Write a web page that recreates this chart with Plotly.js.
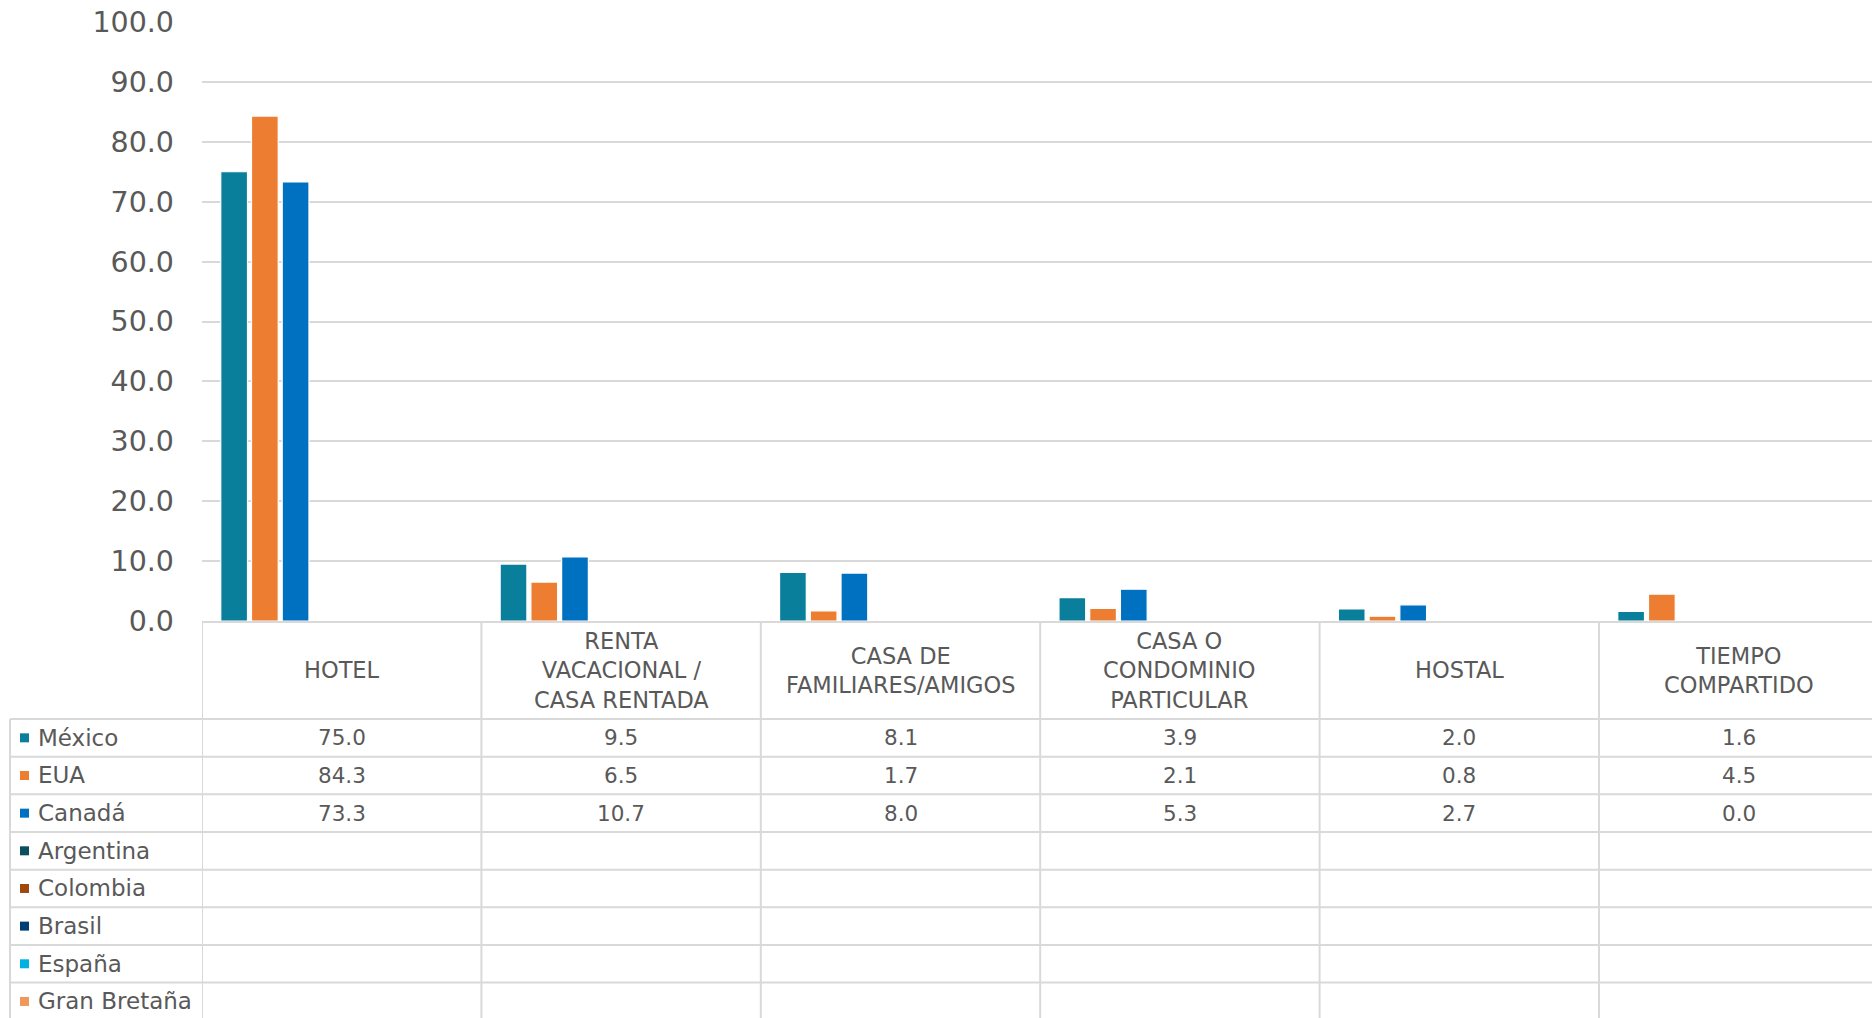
<!DOCTYPE html>
<html>
<head>
<meta charset="utf-8">
<script src="https://cdn.plot.ly/plotly-3.0.1.min.js"></script>
<style>
html, body { margin: 0; padding: 0; overflow: hidden; background: #ffffff; }
#chart { width: 1872px; height: 1018px; }
</style>
</head>
<body>
<div id="chart"></div>
<script>
// ---- Data ----
const categories = [
  'HOTEL',
  'RENTA<br>VACACIONAL /<br>CASA RENTADA',
  'CASA DE<br>FAMILIARES/AMIGOS',
  'CASA O<br>CONDOMINIO<br>PARTICULAR',
  'HOSTAL',
  'TIEMPO<br>COMPARTIDO'
];
const seriesNames = ['México', 'EUA', 'Canadá', 'Argentina', 'Colombia', 'Brasil', 'España', 'Gran Bretaña'];
const mexico     = [75.0, 9.5, 8.1, 3.9, 2.0, 1.6];
const eua        = [84.3, 6.5, 1.7, 2.1, 0.8, 4.5];
const canada     = [73.3, 10.7, 8.0, 5.3, 2.7, 0.0];
const argentina  = [null, null, null, null, null, null];
const colombia   = [null, null, null, null, null, null];
const brasil     = [null, null, null, null, null, null];
const espana     = [null, null, null, null, null, null];
const granBretana = [null, null, null, null, null, null];
const yTicks = [0, 10, 20, 30, 40, 50, 60, 70, 80, 90, 100];

const seriesValues = [mexico, eua, canada, argentina, colombia, brasil, espana, granBretana];
const seriesColors = ['#0A7F9B', '#ED7D31', '#0070C0', '#0B4F5E', '#9E480E', '#003F74', '#00B2E2', '#F1975A'];

// ---- Geometry (pixels) ----
const W = 1872, H = 1018;
const mL = 202, mR = 0, mT = 22, mB = 397;
const plotH = H - mT - mB;           // 599
const plotW = W - mL - mR;           // 1670
const catPx = 279.4;                 // width of one category column
const xMax = -0.5 + plotW / catPx;
const axisY = mT + plotH;            // pixel y of the zero line
const headerBottom = 719;
const rowH = 37.66;
const tableLeft = 10;

const py = Y => (axisY - Y) / plotH;     // pixel y -> paper y
const px = X => (X - mL) / plotW;        // pixel x -> paper x

const fontFam = '"DejaVu Sans", Lato, sans-serif';
const textColor = '#595959';
const lineColor = '#D9D9D9';

// ---- Traces ----
const traces = seriesNames.map((name, i) => ({
  type: 'bar',
  name: name,
  x: categories,
  y: seriesValues[i],
  marker: { color: seriesColors[i], line: { color: '#ffffff', width: 1.2 } },
  hoverinfo: 'x+y+name'
}));

// ---- Table shapes and annotations ----
const shapes = [];
const annotations = [];

// vertical column lines in table
for (let k = 0; k <= categories.length; k++) {
  const xv = -0.5 + k;
  if (xv > xMax) break;
  shapes.push({
    type: 'line', xref: 'x', yref: 'paper',
    x0: xv, x1: xv, y0: 0, y1: py(H + 5),
    line: { color: lineColor, width: 2 }
  });
}
// left edge of series column
shapes.push({
  type: 'line', xref: 'paper', yref: 'paper',
  x0: px(tableLeft), x1: px(tableLeft), y0: py(headerBottom), y1: py(H + 5),
  line: { color: lineColor, width: 2 }
});
// horizontal row lines
for (let r = 0; r <= seriesNames.length; r++) {
  const Y = headerBottom + r * rowH;
  if (Y > H) break;
  shapes.push({
    type: 'line', xref: 'paper', yref: 'paper',
    x0: px(tableLeft), x1: 1, y0: py(Y), y1: py(Y),
    line: { color: lineColor, width: 2 }
  });
}

// header labels
categories.forEach((c, j) => {
  annotations.push({
    xref: 'x', yref: 'paper', x: c, y: py((axisY + headerBottom) / 2),
    text: c, showarrow: false, xanchor: 'center', yanchor: 'middle',
    align: 'center',
    font: { family: fontFam, size: 22.5, color: textColor }
  });
});

// series rows
seriesNames.forEach((name, i) => {
  const cy = headerBottom + i * rowH + rowH / 2;
  shapes.push({
    type: 'rect', xref: 'paper', yref: 'paper',
    x0: px(20), x1: px(29), y0: py(cy - 4.5), y1: py(cy + 4.5),
    fillcolor: seriesColors[i], line: { width: 0 }
  });
  annotations.push({
    xref: 'paper', yref: 'paper', x: px(36), y: py(cy),
    text: name, showarrow: false, xanchor: 'left', yanchor: 'middle',
    font: { family: fontFam, size: 23, color: textColor }
  });
  seriesValues[i].forEach((v, j) => {
    if (v === null) return;
    annotations.push({
      xref: 'x', yref: 'paper', x: categories[j], y: py(cy),
      text: v.toFixed(1), showarrow: false, xanchor: 'center', yanchor: 'middle',
      font: { family: fontFam, size: 21.5, color: textColor }
    });
  });
});

const layout = {
  width: W, height: H,
  margin: { l: mL, r: mR, t: mT, b: mB, pad: 0 },
  paper_bgcolor: '#ffffff', plot_bgcolor: '#ffffff',
  showlegend: false,
  barmode: 'group',
  bargap: 0.12,
  bargroupgap: 0.13,
  font: { family: fontFam, color: textColor },
  xaxis: {
    type: 'category',
    range: [-0.5, xMax],
    showticklabels: false,
    showgrid: false,
    zeroline: false,
    showline: true, linecolor: lineColor, linewidth: 2,
    ticks: ''
  },
  yaxis: {
    range: [0, 100],
    tickvals: yTicks,
    tickformat: '.1f',
    showgrid: true, gridcolor: lineColor, gridwidth: 2,
    zeroline: false, showline: false,
    ticks: '',
    ticklabelstandoff: 27,
    tickfont: { family: fontFam, size: 28.5, color: textColor }
  },
  shapes: shapes,
  annotations: annotations
};

Plotly.newPlot('chart', traces, layout, { displayModeBar: false, staticPlot: true });
</script>
</body>
</html>
